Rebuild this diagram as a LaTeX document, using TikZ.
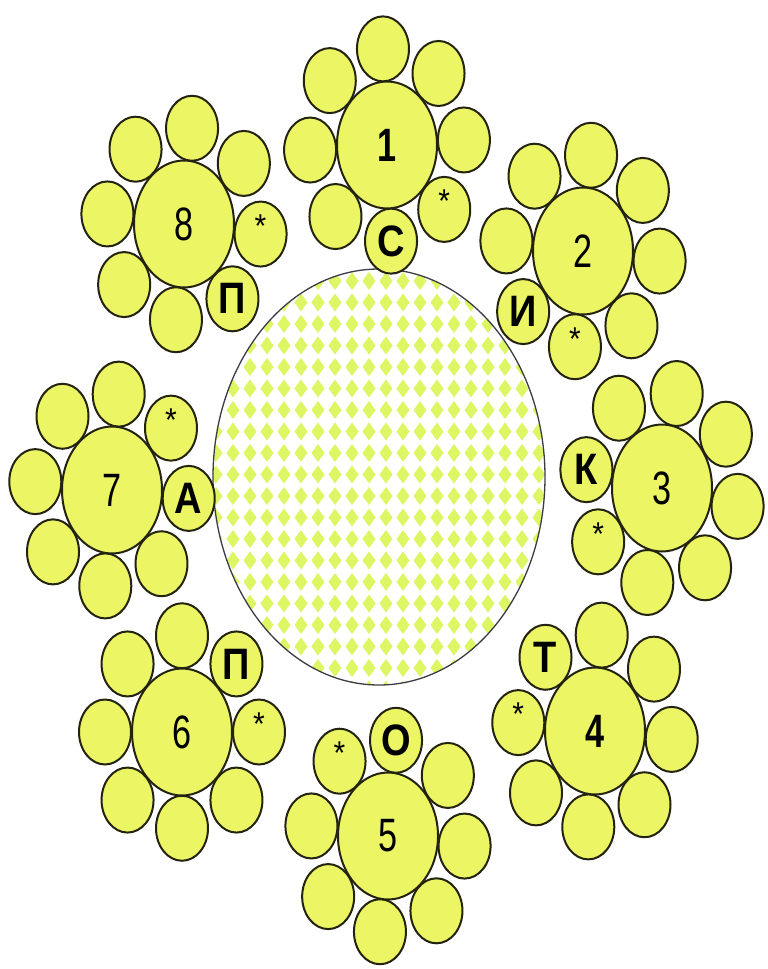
\documentclass[tikz,border=0pt]{standalone}
\usepackage{graphicx}
\usepackage{fontspec}
\setmainfont{Liberation Sans}
\definecolor{petal}{RGB}{236,245,100}
\definecolor{dia}{RGB}{220,246,100}
\definecolor{edge}{RGB}{35,35,15}
\definecolor{tableedge}{RGB}{60,60,70}
\tikzset{
  petalshape/.style={fill=petal, draw=edge, line width=2pt},
  numtext/.style={inner sep=0pt, font=\fontsize{36}{36}\selectfont},
  lettext/.style={inner sep=0pt, font=\fontsize{40}{40}\selectfont\bfseries},
  startext/.style={inner sep=0pt, font=\fontsize{30}{30}\selectfont},
}
% #1 cx, #2 cy, #3 angular offset, #4 id, #5 star petal index, #6 letter petal index, #7 letter, #8 number text
\newcommand\myflower[8]{%
  \foreach \k in {0,...,7} {
    \pgfmathsetmacro\ang{#3+90-45*\k}
    \path[petalshape] ({#1+77*cos(\ang)},{#2-1.25*77*sin(\ang)}) ellipse [x radius=26, y radius=32.5];
  }
  \path[petalshape] (#1,#2) ellipse [x radius=50, y radius=63.5];
  \node[numtext] (num#4) at (#1,#2) {\scalebox{0.95}[1.3]{#8}};
  \pgfmathsetmacro\sang{#3+90-45*#5}
  \node[startext] (star#4) at ({#1+77*cos(\sang)},{#2-1.25*77*sin(\sang)-8}) {\scalebox{1}[1.1]{*}};
  \pgfmathsetmacro\lang{#3+90-45*#6}
  \node[lettext] (let#4) at ({#1+77*cos(\lang)},{#2-1.25*77*sin(\lang)}) {\scalebox{0.95}[1.1]{#7}};
}
\begin{document}
\begin{tikzpicture}[x=1pt,y=-1pt]
\useasboundingbox (0,0) rectangle (768,969);
\fill[white] (0,0) rectangle (768,969);
% central table
\begin{scope}
  \clip (379,477) ellipse [x radius=166, y radius=208];
  \foreach \i in {-12,...,12} {
    \foreach \j in {-12,...,12} {
      \fill[dia] ({335+17*\i-6.5},{453+21.5*\j}) -- ({335+17*\i},{453+21.5*\j-9}) -- ({335+17*\i+6.5},{453+21.5*\j}) -- ({335+17*\i},{453+21.5*\j+9}) -- cycle;
    }
  }
\end{scope}
\draw[tableedge, line width=1.3pt] (379,477) ellipse [x radius=166, y radius=208];
% flowers
\myflower{387}{145}{3}{1}{3}{4}{С}{\textbf{1}}
\myflower{583}{251}{-6}{2}{4}{5}{И}{2}
\myflower{662}{488}{-11}{3}{5}{6}{К}{3}
\myflower{595}{731}{-5}{4}{6}{7}{Т}{\textbf{4}}
\myflower{388}{836}{-6}{5}{7}{0}{О}{5}
\myflower{182}{732}{0}{6}{2}{1}{П}{6}
\myflower{112}{490}{-5}{7}{1}{2}{А}{7}
\myflower{184}{224}{-6}{8}{2}{3}{П}{8}
\end{tikzpicture}
\end{document}
